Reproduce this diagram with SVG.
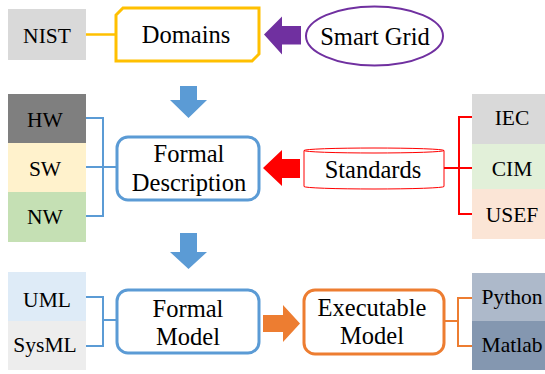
<svg xmlns="http://www.w3.org/2000/svg" width="545" height="374" viewBox="0 0 545 374">
<style>
.lblm{font-family:'Liberation Serif','Times New Roman',serif;font-size:24.5px;fill:#000;text-anchor:middle}
.lbls{font-family:'Liberation Serif','Times New Roman',serif;font-size:21.5px;fill:#000;text-anchor:middle}
.blue{fill:#fff;stroke:#5B9BD5;stroke-width:3}
.bl{fill:none;stroke:#5B9BD5;stroke-width:2}
.rl{fill:none;stroke:#FF0000;stroke-width:2}
.ol{fill:none;stroke:#ED7D31;stroke-width:2}
</style>
<rect width="545" height="374" fill="#fff"/>
<g id="connectors">
<line x1="86" y1="34.5" x2="116" y2="34.5" stroke="#FFC000" stroke-width="2.5"/>
<polygon points="264,34.5 282,16.5 282,26 301,26 301,44.5 282,44.5 282,54.5" fill="#7030A0"/>
<polygon points="180,86 197,86 197,100 207,100 188.5,118 170,100 180,100" fill="#5B9BD5"/>
<polygon points="180,233 197,233 197,252 207,252 188.5,269 170,252 180,252" fill="#5B9BD5"/>
<polygon points="263,168 282,150 282,159 300,159 300,178 282,178 282,186" fill="#FF0000"/>
<polygon points="263,315 283,315 283,305 300,323.5 283,342 283,332 263,332" fill="#ED7D31"/>
<path class="bl" d="M86,118H103V216H86M86,167H117"/>
<path class="bl" d="M86,297H103V346H86M103,320H117"/>
<path class="rl" d="M472,117H459V214H472M472,168H444"/>
<path class="ol" d="M472,298H458V346H472M458,321H444"/>
</g>
<g id="nist"><rect x="8" y="9" width="78" height="51" fill="#D9D9D9"/><text class="lbls" x="47" y="42.5">NIST</text></g>
<g id="domains"><polygon points="123,8 259,8 259,54 252,61 116,61 116,15" fill="#fff" stroke="#FFC000" stroke-width="3"/><text class="lblm" x="186" y="42.5">Domains</text></g>
<g id="smartgrid"><ellipse cx="374.5" cy="36" rx="68.5" ry="29.5" fill="#fff" stroke="#7030A0" stroke-width="2"/><text class="lblm" x="375" y="45">Smart Grid</text></g>
<g id="hw"><rect x="8" y="94" width="78" height="49" fill="#7F7F7F"/><text class="lbls" x="45" y="126.5">HW</text></g>
<g id="sw"><rect x="8" y="143" width="78" height="49" fill="#FFF2CC"/><text class="lbls" x="45" y="175.5">SW</text></g>
<g id="nw"><rect x="8" y="192" width="78" height="50" fill="#C5E0B4"/><text class="lbls" x="45" y="224">NW</text></g>
<g id="formal-description"><rect x="117" y="137" width="142" height="63" rx="11" class="blue"/><text class="lblm" x="189" y="161.5">Formal</text><text class="lblm" x="189" y="191">Description</text></g>
<g id="standards"><path d="M304,150.5V186.5A70,2.5 0 0 0 444,186.5V150.5A70,2.5 0 0 0 304,150.5Z" fill="#fff" stroke="#FF0000" stroke-width="1"/><path d="M304,150.5A70,2.5 0 0 0 444,150.5" fill="none" stroke="#FF0000" stroke-width="1"/><text class="lblm" x="373" y="177.5">Standards</text></g>
<g id="iec"><rect x="472" y="94" width="73" height="50" fill="#D9D9D9"/><text class="lbls" x="512" y="124.5">IEC</text></g>
<g id="cim"><rect x="472" y="144" width="73" height="45" fill="#E2F0D9"/><text class="lbls" x="512" y="175.5">CIM</text></g>
<g id="usef"><rect x="472" y="189" width="73" height="50" fill="#FBE5D6"/><text class="lbls" x="512" y="222">USEF</text></g>
<g id="uml"><rect x="8" y="272" width="78" height="49" fill="#DEEBF7"/><text class="lbls" x="47" y="306.5">UML</text></g>
<g id="sysml"><rect x="8" y="321" width="78" height="49" fill="#EDEDED"/><text class="lbls" x="45" y="351.5">SysML</text></g>
<g id="formal-model"><rect x="117" y="290" width="142" height="63" rx="11" class="blue"/><text class="lblm" x="188" y="317">Formal</text><text class="lblm" x="188" y="345">Model</text></g>
<g id="executable-model"><rect x="304" y="290" width="140" height="64" rx="11" fill="#fff" stroke="#ED7D31" stroke-width="3"/><text class="lblm" x="372" y="316">Executable</text><text class="lblm" x="372" y="344">Model</text></g>
<g id="python"><rect x="472" y="273" width="73" height="48" fill="#ADB9CA"/><text class="lbls" x="512" y="304">Python</text></g>
<g id="matlab"><rect x="472" y="321" width="73" height="49" fill="#8497B0"/><text class="lbls" x="512" y="351.5">Matlab</text></g>
</svg>
